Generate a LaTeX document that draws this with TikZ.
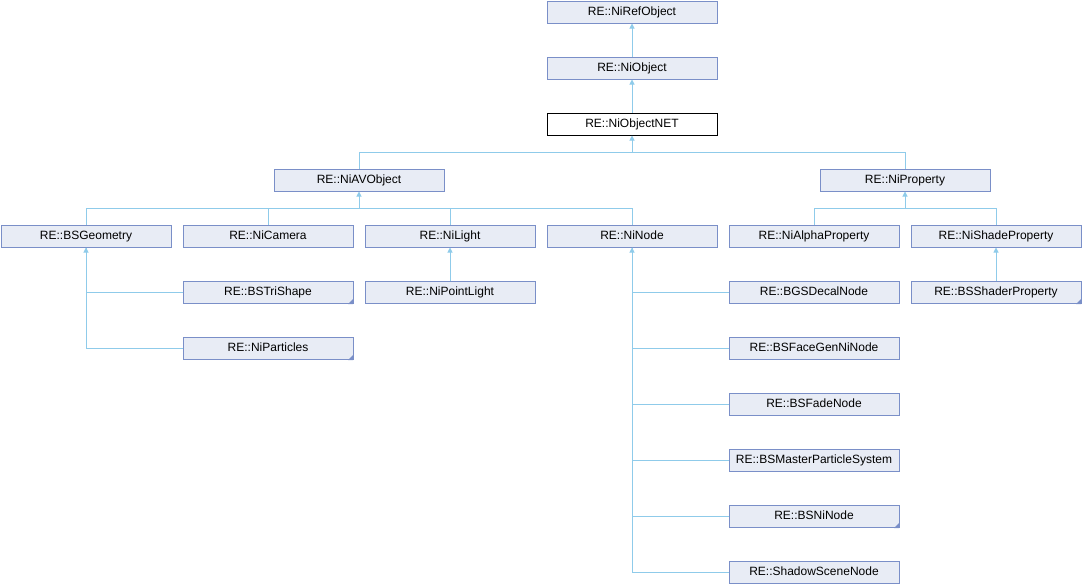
\documentclass[tikz,border=0pt]{standalone}
\usepackage{fontspec}
\setmainfont{Liberation Sans}
\usetikzlibrary{arrows.meta}
\definecolor{boxfill}{HTML}{E8ECF5}
\definecolor{boxdraw}{HTML}{7A8FC8}
\definecolor{edge}{HTML}{8FCBEA}
\tikzset{
  x=1pt,y=-1pt,
  cls/.style={draw=boxdraw,fill=boxfill,line width=1pt,minimum width=170pt,minimum height=22pt,inner sep=0pt,text height=8.6pt,text depth=2.4pt,font=\fontsize{12}{14}\selectfont,anchor=north west},
  cur/.style={cls,draw=black,fill=white},
  link/.style={draw=edge,line width=1pt},
  inh/.style={link,{Triangle[width=5pt,length=5pt]}-},
}
\newcommand{\corner}[1]{\fill[boxdraw] ([shift={(-0.5pt,-0.5pt)}]#1.south east) -- ++(-5pt,0) -- ++(5pt,5pt) -- cycle;}
\begin{document}
\begin{tikzpicture}
\useasboundingbox (0,0) rectangle (1082,584);
% nodes
\node[cls] (ref) at (546.5,0.5) {RE::NiRefObject};
\node[cls] (obj) at (546.5,56.5) {RE::NiObject};
\node[cur] (net) at (546.5,112.5) {RE::NiObjectNET};
\node[cls] (av) at (273.5,168.5) {RE::NiAVObject};
\node[cls] (prop) at (819.5,168.5) {RE::NiProperty};
\node[cls] (geo) at (0.5,224.5) {RE::BSGeometry};
\node[cls] (cam) at (182.5,224.5) {RE::NiCamera};
\node[cls] (light) at (364.5,224.5) {RE::NiLight};
\node[cls] (node) at (546.5,224.5) {RE::NiNode};
\node[cls] (alpha) at (728.5,224.5) {RE::NiAlphaProperty};
\node[cls] (shade) at (910.5,224.5) {RE::NiShadeProperty};
\node[cls] (tri) at (182.5,280.5) {RE::BSTriShape};
\node[cls] (part) at (182.5,336.5) {RE::NiParticles};
\node[cls] (plight) at (364.5,280.5) {RE::NiPointLight};
\node[cls] (decal) at (728.5,280.5) {RE::BGSDecalNode};
\node[cls] (shader) at (910.5,280.5) {RE::BSShaderProperty};
\node[cls] (face) at (728.5,336.5) {RE::BSFaceGenNiNode};
\node[cls] (fade) at (728.5,392.5) {RE::BSFadeNode};
\node[cls] (master) at (728.5,448.5) {RE::BSMasterParticleSystem};
\node[cls] (bsni) at (728.5,504.5) {RE::BSNiNode};
\node[cls] (shadow) at (728.5,560.5) {RE::ShadowSceneNode};
\corner{tri}
\corner{part}
\corner{shader}
\corner{bsni}
% connectors
\draw[inh] (ref.south) -- (obj.north);
\draw[inh] (obj.south) -- (net.north);
\draw[inh] (net.south) -- ++(0,17) -| (av.north);
\draw[link] (net.south) ++(0,17) -| (prop.north);
\draw[inh] (av.south) -- ++(0,17) -| (geo.north);
\draw[link] (av.south) ++(0,17) -| (cam.north);
\draw[link] (av.south) ++(0,17) -| (light.north);
\draw[link] (av.south) ++(0,17) -| (node.north);
\draw[inh] (prop.south) -- ++(0,17) -| (alpha.north);
\draw[link] (prop.south) ++(0,17) -| (shade.north);
\draw[inh] (geo.south) |- (tri.west);
\draw[link] (geo.south) |- (part.west);
\draw[inh] (light.south) -- (plight.north);
\draw[inh] (shade.south) -- (shader.north);
\draw[inh] (node.south) |- (decal.west);
\draw[link] (node.south) |- (face.west);
\draw[link] (node.south) |- (fade.west);
\draw[link] (node.south) |- (master.west);
\draw[link] (node.south) |- (bsni.west);
\draw[link] (node.south) |- (shadow.west);
\end{tikzpicture}
\end{document}
